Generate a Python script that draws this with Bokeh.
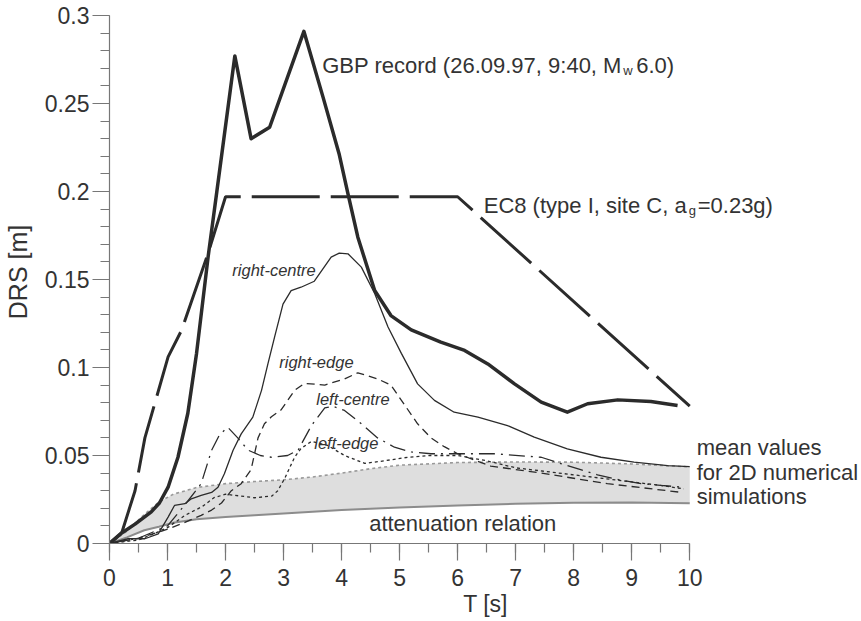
from bokeh.plotting import figure
from bokeh.models import Range1d, SingleIntervalTicker, FixedTicker, CustomJSTickFormatter, Label
from bokeh.embed import file_html
from bokeh.resources import INLINE

# ---------------- data ----------------
gbp_T = [0, 0.21, 0.44, 0.72, 0.86, 1.01, 1.18, 1.35, 1.5, 1.7, 1.85, 2.16, 2.44, 2.76, 3.35, 3.68,
         3.96, 4.11, 4.28, 4.57, 4.85, 5.2, 5.71, 6.12, 6.52, 6.98, 7.44, 7.89, 8.24, 8.76, 9.33, 9.79]
gbp_v = [0, 0.006, 0.011, 0.018, 0.023, 0.032, 0.049, 0.074, 0.108, 0.163, 0.200, 0.277, 0.230, 0.2365,
         0.291, 0.2536, 0.221, 0.1987, 0.174, 0.1437, 0.1295, 0.1214, 0.1144, 0.1097, 0.102, 0.0907,
         0.0803, 0.0746, 0.0794, 0.0816, 0.0807, 0.0784]

ec8_T = [0, 0.21, 0.44, 0.61, 0.81, 1.01, 1.24, 1.70, 2.0, 6.0, 10.0]
ec8_v = [0, 0.006, 0.030, 0.060, 0.083, 0.106, 0.121, 0.165, 0.197, 0.197, 0.078]

rc_T = [0, 0.32, 0.61, 0.84, 1.01, 1.12, 1.30, 1.41, 1.58, 1.76, 1.87, 1.98, 2.13, 2.27, 2.47, 2.62,
        2.73, 2.85, 2.99, 3.13, 3.30, 3.53, 3.82, 3.96, 4.11, 4.34, 4.57, 4.80, 5.03, 5.31, 5.60,
        5.94, 6.35, 6.86, 7.32, 7.89, 8.47, 9.04, 9.62, 10.0]
rc_v = [0, 0.0027, 0.0027, 0.0055, 0.015, 0.0216, 0.0226, 0.0254, 0.0273, 0.029, 0.032, 0.0396,
        0.053, 0.0623, 0.0718, 0.087, 0.102, 0.118, 0.136, 0.1437, 0.1456, 0.149, 0.1627, 0.165,
        0.1646, 0.157, 0.142, 0.123, 0.108, 0.0907, 0.0813, 0.0746, 0.0718, 0.067, 0.0604, 0.0538,
        0.049, 0.0462, 0.0443, 0.0437]

re_T = [0, 0.5, 0.9, 1.07, 1.3, 1.58, 1.76, 1.93, 2.1, 2.27, 2.44, 2.5, 2.56, 2.67, 2.79, 2.96, 3.19,
        3.36, 3.71, 4.05, 4.28, 4.62, 4.85, 5.08, 5.31, 5.54, 5.77, 6.0, 6.57, 7.44, 8.58, 9.87]
re_v = [0, 0.003, 0.007, 0.009, 0.012, 0.016, 0.019, 0.023, 0.030, 0.034, 0.042, 0.051, 0.060, 0.068,
        0.072, 0.076, 0.087, 0.091, 0.090, 0.0935, 0.097, 0.0935, 0.090, 0.079, 0.068, 0.060, 0.055,
        0.051, 0.044, 0.040, 0.034, 0.029]

lc_T = [0, 0.5, 1.0, 1.3, 1.58, 1.76, 1.9, 2.04, 2.21, 2.39, 2.6, 2.79, 3.07, 3.25, 3.48, 3.71, 3.85,
        4.05, 4.34, 4.62, 4.91, 5.2, 5.54, 6.0, 6.63, 7.44, 7.72, 8.12, 8.41, 8.81, 9.16, 9.5, 9.87]
lc_v = [0, 0.003, 0.010, 0.022, 0.034, 0.053, 0.062, 0.066, 0.060, 0.053, 0.050, 0.049, 0.050, 0.053,
        0.067, 0.077, 0.078, 0.0756, 0.068, 0.060, 0.0547, 0.052, 0.051, 0.051, 0.051, 0.049, 0.046,
        0.042, 0.039, 0.036, 0.034, 0.033, 0.032]

le_T = [0, 0.5, 0.8, 1.0, 1.3, 1.6, 1.8, 2.0, 2.5, 2.8, 2.9, 3.02, 3.19, 3.3, 3.48, 3.76, 4.05, 4.4,
        4.74, 5.14, 5.54, 6.0, 6.5, 7.0, 7.5, 8.0, 8.5, 9.0, 9.5, 9.9]
le_v = [0, 0.002, 0.006, 0.009, 0.016, 0.021, 0.026, 0.028, 0.026, 0.027, 0.030, 0.037, 0.049, 0.054,
        0.058, 0.0557, 0.050, 0.0455, 0.047, 0.049, 0.050, 0.050, 0.047, 0.043, 0.041, 0.039, 0.037,
        0.035, 0.033, 0.031]

band_T = [0, 0.3, 0.6, 0.85, 1.1, 1.5, 2.0, 2.5, 3.0, 3.5, 4.0, 4.5, 5.0, 6.0, 7.0, 8.0, 9.0, 10.0]
mean_v = [0, 0.007, 0.0165, 0.0235, 0.028, 0.0318, 0.034, 0.0352, 0.0362, 0.0378, 0.040, 0.0425,
          0.0445, 0.046, 0.0463, 0.0462, 0.0452, 0.0435]
atten_v = [0, 0.0035, 0.0075, 0.0095, 0.0118, 0.0138, 0.015, 0.016, 0.017, 0.018, 0.019, 0.0198,
           0.0205, 0.0216, 0.0226, 0.0232, 0.0233, 0.0229]

x_bounds = (0, 10)
y_bounds = (0, 0.3)
y_ticks = [0, 0.05, 0.1, 0.15, 0.2, 0.25, 0.3]
y_minor = [0, 0.01, 0.02, 0.03, 0.04, 0.05, 0.06, 0.07, 0.08, 0.09, 0.1, 0.11, 0.12, 0.13, 0.14,
           0.15, 0.16, 0.17, 0.18, 0.19, 0.2, 0.21, 0.22, 0.23, 0.24, 0.25, 0.26, 0.27, 0.28, 0.29, 0.3]

FONT = "Liberation Sans"
INK = "#2b2b2b"
TXT = "#333333"

# frame is 0..10 s wide (581 px) plus room on the right for the side labels
p = figure(width=861, height=621, output_backend="svg", toolbar_location=None,
           x_range=Range1d(0, 12.96), y_range=Range1d(0, 0.3085),
           min_border_left=108, min_border_right=0, min_border_top=0, min_border_bottom=78)
p.outline_line_color = None
p.xgrid.visible = False
p.ygrid.visible = False
p.background_fill_color = "white"
p.border_fill_color = "white"

p.xaxis.ticker = SingleIntervalTicker(interval=1, num_minor_ticks=2)
p.xaxis.bounds = x_bounds
p.yaxis.ticker = FixedTicker(ticks=y_ticks, minor_ticks=y_minor)
p.yaxis.bounds = y_bounds
p.yaxis.formatter = CustomJSTickFormatter(code="return Number(tick.toFixed(2)).toString();")
for ax in (p.xaxis[0], p.yaxis[0]):
    ax.axis_line_color = "#777777"
    ax.axis_line_width = 1.2
    ax.major_tick_line_color = "#777777"
    ax.minor_tick_line_color = "#777777"
    ax.major_tick_line_width = 1.2
    ax.minor_tick_line_width = 1.2
    ax.major_tick_in = 0
    ax.major_tick_out = 17
    ax.minor_tick_in = 0
    ax.minor_tick_out = 9
    ax.major_label_text_font = FONT
    ax.major_label_text_font_size = "23px"
    ax.major_label_text_color = TXT
    ax.axis_label_text_font = FONT
    ax.axis_label_text_font_style = "normal"
    ax.axis_label_text_color = TXT
p.xaxis.axis_label = "T [s]"
p.xaxis.axis_label_text_font_size = "23px"
p.xaxis.major_label_standoff = 8
p.xaxis.axis_label_standoff = 2
p.yaxis.axis_label = "DRS [m]"
p.yaxis.axis_label_text_font_size = "25px"
p.yaxis.major_label_standoff = 3
p.yaxis.axis_label_standoff = 10

# grey band between attenuation relation and mean of 2D simulations
p.varea(x=band_T, y1=atten_v, y2=mean_v, fill_color="#dedede")
p.line(band_T, mean_v, line_color="#999999", line_width=1.6, line_dash="3 3")
p.line(band_T, atten_v, line_color="#8c8c8c", line_width=2)

# simulated curves
p.line(le_T, le_v, line_color=INK, line_width=1.3, line_dash="3 3")
p.line(lc_T, lc_v, line_color=INK, line_width=1.3, line_dash="16 6 2 6")
p.line(re_T, re_v, line_color=INK, line_width=1.3, line_dash="8 5")
p.line(rc_T, rc_v, line_color=INK, line_width=1.3)

# EC8 and record
p.line(ec8_T, ec8_v, line_color=INK, line_width=3, line_dash="68 11")
p.line(gbp_T, gbp_v, line_color=INK, line_width=3.5, line_join="round")


def lab(x, y, text, size=22, style="normal", xo=0, yo=0):
    p.add_layout(Label(x=x, y=y, text=text, x_offset=xo, y_offset=yo + round(0.3 * size),
                       text_font=FONT, text_font_size=f"{size}px", text_font_style=style,
                       text_color=TXT, text_baseline="alphabetic", text_align="left"))


# GBP label with subscript
lab(3.666, 0.2676, "GBP record (26.09.97, 9:40, M")
lab(3.666, 0.2676, "w", size=13, xo=301, yo=-2)
lab(3.666, 0.2676, "6.0)", xo=314)
# EC8 label with subscript
lab(6.449, 0.188, "EC8 (type I, site C, a")
lab(6.449, 0.188, "g", size=13, xo=205, yo=-2)
lab(6.449, 0.188, "=0.23g)", xo=214)

lab(2.117, 0.1523, "right-centre", size=16.5, style="italic")
lab(2.926, 0.100, "right-edge", size=16.5, style="italic")
lab(3.563, 0.079, "left-centre", size=16.5, style="italic")
lab(3.528, 0.054, "left-edge", size=16.5, style="italic")
lab(4.475, 0.0074, "attenuation relation")
lab(10.12, 0.0506, "mean values")
lab(10.12, 0.0364, "for 2D numerical")
lab(10.12, 0.0227, "simulations")

open("out.html", "w").write(file_html(p, INLINE))
